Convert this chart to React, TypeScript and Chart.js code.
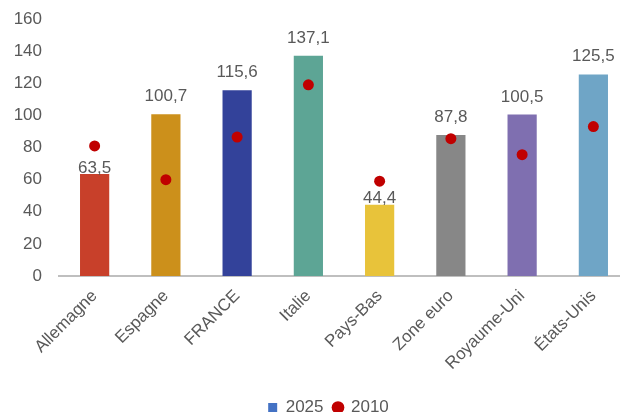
import React, { useEffect, useRef } from 'react';
import { Chart, registerables } from 'chart.js';

Chart.register(...registerables);

const categories = ['Allemagne', 'Espagne', 'FRANCE', 'Italie', 'Pays-Bas', 'Zone euro', 'Royaume-Uni', 'États-Unis'];
const values2025 = [63.5, 100.7, 115.6, 137.1, 44.4, 87.8, 100.5, 125.5];
const values2010 = [81, 60, 86.5, 119, 59, 85.5, 75.5, 93];
const barColors = ['#C8402A', '#CC901B', '#33429A', '#5DA595', '#E8C33A', '#878787', '#7F6FB0', '#6FA5C6'];
const seriesLabels = ['2025', '2010'];
const legendColors = ['#4472C4', '#C00000'];
const yTicks = { min: 0, max: 160, step: 20 };

const FONT = "'Liberation Sans', Arial, sans-serif";
const TEXT = '#595959';
const DOT = '#C00000';

const valueLabels = {
  id: 'valueLabels',
  afterDatasetsDraw(chart: any) {
    const meta = chart.getDatasetMeta(0);
    const ctx = chart.ctx;
    ctx.save();
    ctx.font = `17px ${FONT}`;
    ctx.fillStyle = TEXT;
    ctx.textAlign = 'center';
    ctx.textBaseline = 'alphabetic';
    meta.data.forEach((bar: any, i: number) => {
      const v = values2025[i];
      const tight = values2010[i] > v;
      ctx.fillText(v.toFixed(1).replace('.', ','), bar.x, bar.y - (tight ? 1.5 : 13));
    });
    ctx.restore();
  },
};

const legendShift = {
  id: 'legendShift',
  afterLayout(chart: any) {
    const lg = chart.legend;
    if (lg) {
      lg.left += 14;
      lg.right += 14;
    }
  },
};

export default function App() {
  const ref = useRef<HTMLCanvasElement>(null);

  useEffect(() => {
    if (!ref.current) return;
    const font = { family: FONT, size: 17 };
    const chart = new Chart(ref.current, {
      type: 'bar',
      data: {
        labels: categories,
        datasets: [
          {
            type: 'bar',
            label: seriesLabels[0],
            data: values2025,
            backgroundColor: barColors,
            barPercentage: 0.41,
            categoryPercentage: 1,
            order: 1,
          } as any,
          {
            type: 'line',
            label: seriesLabels[1],
            data: values2010,
            showLine: false,
            pointRadius: 5.5,
            pointBackgroundColor: DOT,
            pointBorderColor: DOT,
            pointBorderWidth: 0,
            backgroundColor: DOT,
            borderColor: DOT,
            order: 0,
          } as any,
        ],
      },
      options: {
        responsive: true,
        maintainAspectRatio: false,
        animation: false,
        layout: { padding: { left: 0, right: 11, top: 19, bottom: -14 } },
        plugins: {
          tooltip: { enabled: false },
          legend: {
            position: 'bottom',
            labels: {
              font,
              color: TEXT,
              usePointStyle: true,
              boxWidth: 9,
              boxHeight: 9,
              padding: 10,
              generateLabels: () => [
                { text: seriesLabels[0], fillStyle: legendColors[0], strokeStyle: legendColors[0], lineWidth: 0, pointStyle: 'rect', hidden: false, datasetIndex: 0, fontColor: TEXT },
                { text: seriesLabels[1], fillStyle: legendColors[1], strokeStyle: legendColors[1], lineWidth: 0, pointStyle: 'circle', hidden: false, datasetIndex: 1, fontColor: TEXT },
              ] as any,
            },
          },
        },
        scales: {
          x: {
            grid: { display: false, drawTicks: false },
            border: { display: true, color: '#BFBFBF', width: 2 },
            ticks: { font, color: TEXT, minRotation: 45, maxRotation: 45, autoSkip: false, padding: 10 },
            afterFit: (s: any) => { s.height = 113; },
          },
          y: {
            min: yTicks.min,
            max: yTicks.max,
            ticks: { stepSize: yTicks.step, font, color: TEXT, padding: 17 },
            grid: { display: false, drawTicks: false },
            border: { display: false },
            afterFit: (s: any) => { s.width = 59; s.paddingTop = 0; s.paddingBottom = 0; },
          },
        },
      } as any,
      plugins: [valueLabels, legendShift],
    });
    return () => chart.destroy();
  }, []);

  return (
    <div style={{ position: 'fixed', left: 0, top: 0, width: 620, height: 412, overflow: 'hidden', background: '#fff' }}>
      <div style={{ position: 'relative', width: 640, height: 412 }}>
        <canvas ref={ref} />
      </div>
    </div>
  );
}
